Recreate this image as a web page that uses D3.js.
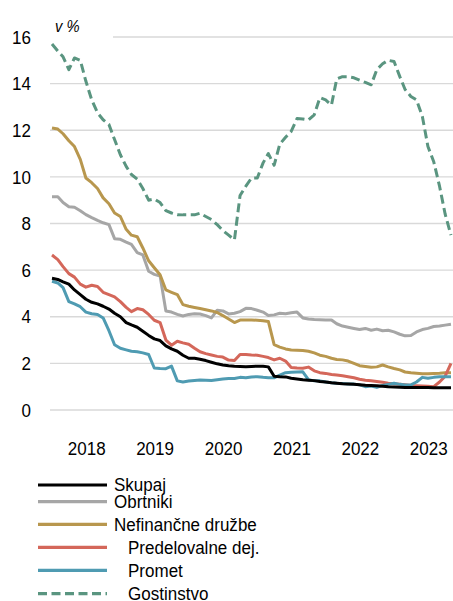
<!DOCTYPE html>
<html>
<head>
<meta charset="utf-8">
<script src="https://cdn.jsdelivr.net/npm/d3@7"></script>
<style>
  html, body { margin: 0; padding: 0; background: #fff; }
  svg { display: block; font-family: "Liberation Sans", Arial, sans-serif; }
</style>
</head>
<body>
<svg id="chart" width="453" height="601"></svg>
<script>
// ---- data (monthly, Jan 2018 onwards, in %) ----
const yTicks = [0, 2, 4, 6, 8, 10, 12, 14, 16];
const yearLabels = ["2018", "2019", "2020", "2021", "2022", "2023"];
const seriesNames = ["Skupaj", "Obrtniki", "Nefinančne družbe", "Predelovalne dej.", "Promet", "Gostinstvo"];

const skupaj = [5.65,5.6,5.5,5.4,5.15,4.95,4.75,4.62,4.55,4.45,4.33,4.15,4.0,3.75,3.65,3.55,3.38,3.2,3.05,2.98,
  2.75,2.62,2.52,2.35,2.22,2.22,2.18,2.12,2.05,1.98,1.93,1.9,1.88,1.87,1.86,1.87,1.88,1.88,1.85,1.45,
  1.43,1.42,1.36,1.33,1.3,1.28,1.26,1.22,1.2,1.17,1.15,1.13,1.12,1.1,1.08,1.06,1.05,1.04,1.02,1.0,
  0.99,0.98,0.97,0.97,0.96,0.96,0.96,0.95,0.95,0.95,0.95];
const obrtniki = [9.15,9.15,8.9,8.72,8.7,8.55,8.38,8.25,8.13,8.03,7.95,7.35,7.32,7.2,7.1,6.75,6.65,5.95,5.82,5.75,
  4.25,4.2,4.1,4.03,4.1,4.13,4.12,4.05,3.95,4.28,4.25,4.12,4.15,4.22,4.36,4.35,4.28,4.2,4.05,4.08,
  4.15,4.13,4.17,4.2,3.95,3.9,3.88,3.87,3.86,3.86,3.7,3.6,3.55,3.5,3.45,3.5,3.42,3.47,3.4,3.42,
  3.35,3.25,3.18,3.2,3.35,3.45,3.5,3.58,3.6,3.64,3.68];
const nefinancne = [12.1,12.05,11.85,11.55,11.3,10.75,9.95,9.75,9.5,9.1,8.85,8.45,8.3,7.75,7.5,7.43,6.95,6.4,6.1,5.8,
  5.15,5.05,4.95,4.52,4.45,4.4,4.35,4.3,4.25,4.18,4.05,3.9,3.75,3.86,3.86,3.86,3.85,3.83,3.8,2.8,
  2.7,2.62,2.57,2.56,2.55,2.52,2.45,2.35,2.3,2.22,2.17,2.15,2.1,2.0,1.9,1.87,1.83,1.85,1.93,1.85,
  1.78,1.72,1.63,1.6,1.58,1.56,1.55,1.57,1.58,1.6,1.6];
const predelovalne = [6.65,6.45,6.15,5.85,5.7,5.4,5.27,5.35,5.3,5.05,4.95,4.85,4.65,4.4,4.22,4.35,4.3,4.1,3.85,3.75,
  3.0,2.78,2.95,2.88,2.82,2.65,2.5,2.42,2.36,2.3,2.27,2.14,2.12,2.38,2.38,2.36,2.35,2.3,2.25,2.15,
  2.22,2.1,1.82,1.8,1.79,1.84,1.68,1.6,1.57,1.52,1.5,1.47,1.43,1.38,1.32,1.28,1.25,1.22,1.19,1.15,
  1.13,1.11,1.08,1.05,1.04,1.03,1.02,1.0,1.2,1.45,2.0];
const promet = [5.52,5.45,5.25,4.65,4.55,4.43,4.2,4.13,4.1,3.95,3.4,2.8,2.65,2.58,2.52,2.5,2.45,2.38,1.8,1.78,
  1.77,1.88,1.25,1.2,1.24,1.27,1.29,1.28,1.27,1.3,1.33,1.35,1.35,1.4,1.38,1.42,1.43,1.4,1.38,1.38,
  1.5,1.6,1.62,1.63,1.64,1.3,1.25,1.25,1.2,1.17,1.15,1.14,1.12,1.11,1.08,1.0,1.03,0.97,1.05,1.1,
  1.15,1.1,1.07,1.08,1.2,1.4,1.36,1.4,1.43,1.43,1.43];
const gostinstvo = [15.7,15.4,15.15,14.6,15.1,15.0,14.1,13.3,12.75,12.45,12.25,11.6,10.95,10.45,10.1,9.9,9.5,9.0,9.05,8.9,
  8.55,8.45,8.38,8.37,8.37,8.37,8.44,8.3,8.17,7.95,7.7,7.5,7.3,9.2,9.6,9.95,9.95,10.6,11.0,10.5,
  11.4,11.7,11.95,12.5,12.48,12.44,12.66,13.4,13.3,13.08,14.2,14.3,14.3,14.25,14.15,14.05,13.95,14.6,14.85,15.0,
  14.95,14.3,13.75,13.45,13.3,12.6,11.3,10.65,9.6,8.4,7.5];

const seriesValues = [skupaj, obrtniki, nefinancne, predelovalne, promet, gostinstvo];
const seriesColors = ["#000000", "#a6a6a6", "#b8974e", "#d4675a", "#4f9bb2", "#5a9580"];
const seriesDash = [null, null, null, null, null, "9,4.5"];
const legendIndent = [0, 0, 0, 1, 1, 1];

const months = d3.timeMonth.range(new Date(2018, 0, 1), new Date(2018, skupaj.length, 1));

// ---- chart ----
const svg = d3.select("#chart");
const W = 453;
const FS = "18.5px";
const SX = 0.92;

const x = d3.scaleTime()
  .domain([new Date(2018, 0, 1), new Date(2024, 0, 1)])
  .range([52, 462.4]);
const y = d3.scaleLinear().domain([0, 16]).range([410, 37]);

// gridlines
svg.append("g").selectAll("line")
  .data(yTicks).join("line")
  .attr("x1", 50).attr("x2", W)
  .attr("y1", d => y(d)).attr("y2", d => y(d))
  .attr("stroke", "#d9d9d9").attr("stroke-width", 1.3);

// label box behind unit
svg.append("rect").attr("x", 48).attr("y", 14).attr("width", 65).attr("height", 27).attr("fill", "#fff");

// y tick labels
svg.append("g").selectAll("text")
  .data(yTicks).join("text")
  .attr("transform", d => `translate(31,${y(d) + 6.7}) scale(${SX},1)`)
  .attr("text-anchor", "end")
  .attr("font-size", FS).attr("fill", "#000")
  .text(d => d);

// x year labels
svg.append("g").selectAll("text")
  .data(yearLabels).join("text")
  .attr("transform", d => `translate(${x(new Date(+d, 6, 1)) + 0.8},455) scale(${SX},1)`)
  .attr("text-anchor", "middle")
  .attr("font-size", FS).attr("fill", "#000")
  .text(d => d);

// unit label
svg.append("text")
  .attr("transform", `translate(55,31.5) scale(${SX},1)`)
  .attr("font-size", "16px").attr("font-style", "italic").attr("fill", "#000")
  .text("v %");

// lines
const line = d3.line()
  .x((d, i) => x(months[i]))
  .y(d => y(d));

const clip = svg.append("defs").append("clipPath").attr("id", "plotclip");
clip.append("rect").attr("x", 40).attr("y", 0).attr("width", W - 40).attr("height", 430);

const lineOrder = [1, 2, 3, 4, 0, 5];
svg.append("g").attr("clip-path", "url(#plotclip)")
  .selectAll("path")
  .data(lineOrder).join("path")
  .attr("d", i => line(seriesValues[i]))
  .attr("fill", "none")
  .attr("stroke", i => seriesColors[i])
  .attr("stroke-width", 3)
  .attr("stroke-linejoin", "round")
  .attr("stroke-dasharray", i => seriesDash[i]);

// legend
const legendY = [485, 501.7, 524.3, 547.3, 570.3, 593.7];
const lg = svg.append("g").selectAll("g")
  .data(seriesNames).join("g")
  .attr("transform", (d, i) => `translate(0,${legendY[i]})`);
lg.append("line")
  .attr("x1", 38).attr("x2", 107).attr("y1", 0).attr("y2", 0)
  .attr("stroke", (d, i) => seriesColors[i])
  .attr("stroke-width", 3.2)
  .attr("stroke-dasharray", (d, i) => seriesDash[i]);
lg.append("text")
  .attr("transform", (d, i) => `translate(${legendIndent[i] ? 128 : 114},6.2) scale(${SX},1)`)
  .attr("font-size", FS).attr("fill", "#000")
  .text(d => d);
</script>
</body>
</html>
